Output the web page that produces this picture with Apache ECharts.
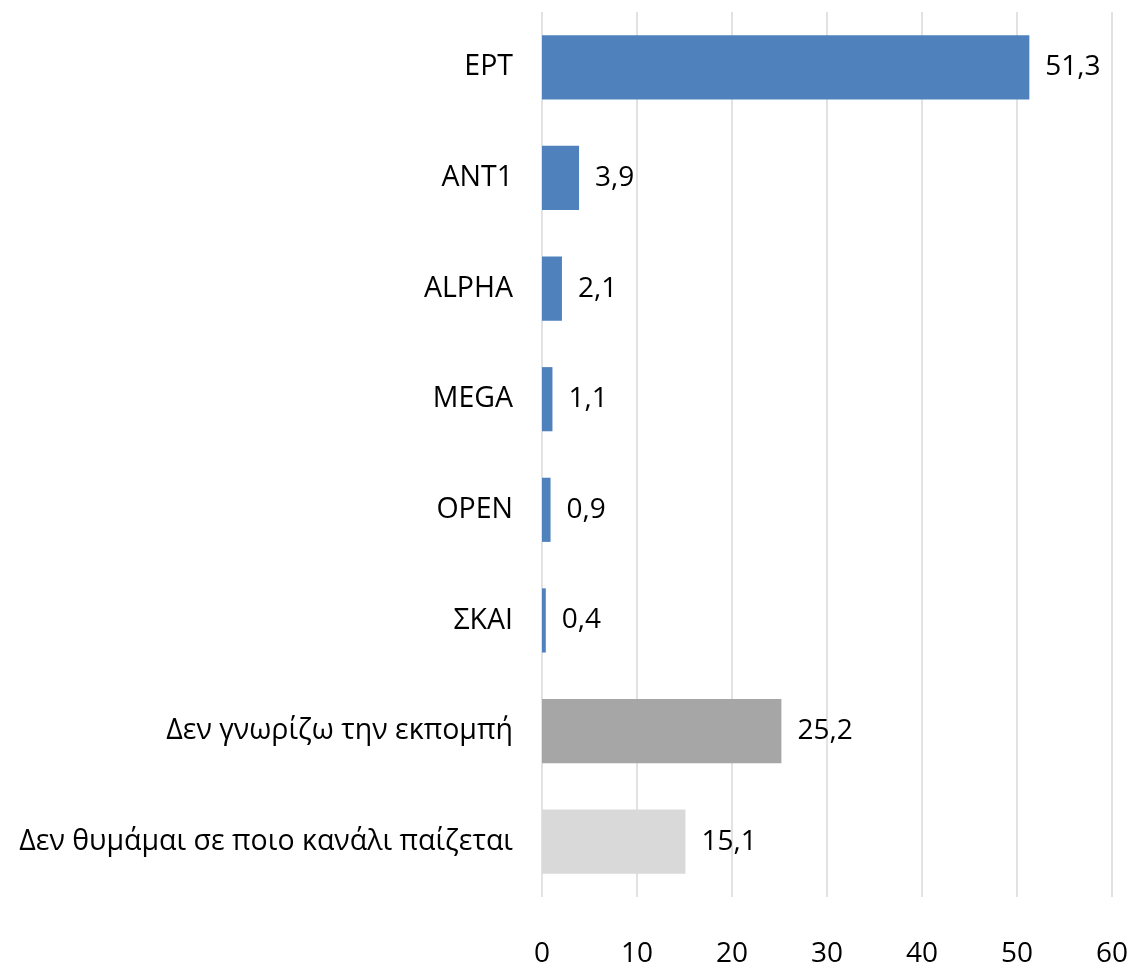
<!DOCTYPE html>
<html>
<head>
<meta charset="utf-8">
<script src="https://cdn.jsdelivr.net/npm/echarts@6/dist/echarts.min.js"></script>
<style>
  html, body { margin: 0; padding: 0; background: #fff; }
  #chart { width: 1133px; height: 970px; }
</style>
</head>
<body>
<div id="chart"></div>
<script>
// Data
const categories = [
  'ΕΡΤ', 'ANT1', 'ALPHA', 'MEGA', 'OPEN', 'ΣΚΑΙ',
  'Δεν γνωρίζω την εκπομπή', 'Δεν θυμάμαι σε ποιο κανάλι παίζεται'
];
const values = [51.3, 3.9, 2.1, 1.1, 0.9, 0.4, 25.2, 15.1];
const barColors = ['#4f81bd', '#4f81bd', '#4f81bd', '#4f81bd', '#4f81bd', '#4f81bd', '#a6a6a6', '#d9d9d9'];

var chartDom = document.getElementById('chart');
var myChart = echarts.init(chartDom);
var option;

const fontFamily = '"Open Sans", "Noto Sans", sans-serif';

option = {
  animation: false,
  grid: {
    left: 542,
    right: 21,
    top: 12,
    bottom: 73,
  },
  xAxis: {
    type: 'value',
    min: 0,
    max: 60,
    interval: 10,
    axisLine: { show: false },
    axisTick: { show: false },
    axisLabel: {
      margin: 43,
      fontSize: 28,
      color: '#000',
      fontFamily: fontFamily,
    },
    splitLine: {
      lineStyle: { color: '#d9d9d9', width: 1.5 },
    },
  },
  yAxis: {
    type: 'category',
    inverse: true,
    data: categories,
    axisLine: { show: false },
    axisTick: { show: false },
    axisLabel: {
      margin: 29,
      fontSize: 28.5,
      color: '#000',
      fontFamily: fontFamily,
    },
  },
  series: [
    {
      type: 'bar',
      barCategoryGap: '42%',
      data: values.map((v, i) => ({
        value: v,
        itemStyle: { color: barColors[i] },
      })),
      label: {
        show: true,
        position: 'right',
        distance: 16,
        fontSize: 28,
        color: '#000',
        fontFamily: fontFamily,
        formatter: (p) => p.value.toFixed(1).replace('.', ','),
      },
    },
  ],
};

option && myChart.setOption(option);
</script>
</body>
</html>
